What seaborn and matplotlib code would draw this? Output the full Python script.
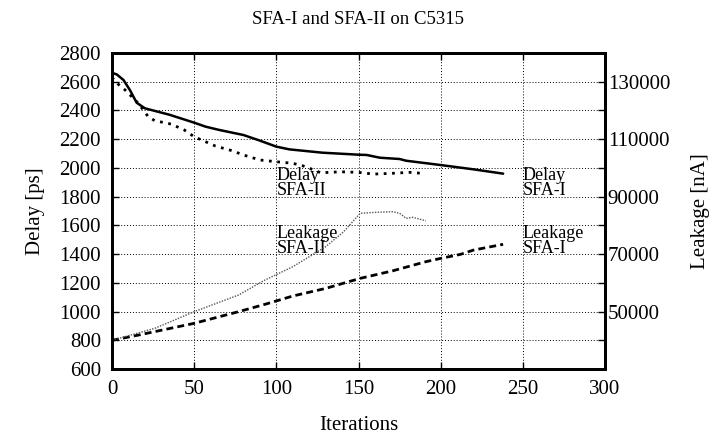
import numpy as np
import pandas as pd
import matplotlib
matplotlib.use("Agg")
import matplotlib.pyplot as plt
import seaborn as sns

# Datos
delay1_it = [0, 3, 7, 11, 15, 20, 28, 35, 50, 57, 65, 80, 90, 100, 108, 128,
             150, 155, 163, 175, 179, 200, 220, 238]
delay1_ps = [2663, 2650, 2612, 2540, 2454, 2415, 2391, 2370, 2315, 2287, 2265,
             2229, 2190, 2148, 2129, 2106, 2092, 2090, 2071, 2062, 2050, 2020,
             1990, 1960]

delay2_it = [0, 3, 8, 16, 22, 26, 36, 44, 50, 63, 73, 80, 90, 100, 110, 116,
             123, 127, 139, 150, 159, 170, 181, 189]
delay2_ps = [2630, 2590, 2542, 2450, 2357, 2329, 2305, 2264, 2217, 2152, 2120,
             2090, 2055, 2043, 2032, 2015, 1985, 1966, 1973, 1969, 1957, 1962,
             1969, 1962]

leak1_it = [0, 16, 50, 77, 93, 110, 130, 151, 171, 191, 200, 212, 220, 238]
leak1_na = [40000, 41800, 45900, 49950, 52500, 55400, 58050, 61550, 64200,
            67350, 68500, 69900, 71400, 73400]

leak2_it = [0, 26, 50, 77, 93, 110, 130, 141, 151, 161, 171, 175, 179, 183, 191]
leak2_na = [40000, 44150, 49950, 55750, 60950, 65600, 72550, 77800, 84200,
            84550, 84750, 84200, 82450, 82800, 81600]

sns.set_style("ticks")
plt.rcParams["font.family"] = ["Liberation Serif", "DejaVu Serif"]
plt.rcParams["font.size"] = 15
for k in ["text.color", "axes.labelcolor", "xtick.color", "ytick.color", "axes.edgecolor"]:
    plt.rcParams[k] = "black"

fig = plt.figure(figsize=(7.14, 4.38), dpi=100)
ax = fig.add_axes([112 / 714, 1 - 369 / 438, (605 - 112) / 714, (369 - 53) / 438])
ax2 = ax.twinx()

sns.lineplot(x=delay1_it, y=delay1_ps, ax=ax, color="black", lw=1.8,
             linestyle="-", estimator=None, sort=False)
sns.lineplot(x=delay2_it, y=delay2_ps, ax=ax, color="black", lw=2.0,
             linestyle=(0, (1, 2.0)), estimator=None, sort=False)
sns.lineplot(x=leak1_it, y=leak1_na, ax=ax2, color="black", lw=2.0,
             linestyle=(0, (2.5, 1.5)), estimator=None, sort=False)
sns.lineplot(x=leak2_it, y=leak2_na, ax=ax2, color="#555555", lw=1.0,
             linestyle=(0, (1, 1)), estimator=None, sort=False)

ax.set_xlim(0, 300)
ax.set_ylim(600, 2800)
ax.set_xticks(np.arange(0, 301, 50))
ax.set_yticks(np.arange(600, 2801, 200))
ax2.set_ylim(30000, 140000)
ax2.set_yticks(np.arange(50000, 130001, 20000))
ax2.set_yticks(np.arange(40000, 140001, 20000), minor=True)

ax.grid(True, color="black", linestyle=(0, (1, 2)), linewidth=0.7)
ax.tick_params(direction="in", top=True, right=False, length=5, width=1, pad=8)
ax2.tick_params(direction="in", length=5, width=1, pad=2)
ax2.tick_params(which="minor", direction="in", length=5, width=1)
for a in (ax, ax2):
    for s in a.spines.values():
        s.set_linewidth(2)
        s.set_color("black")

ax.set_title("SFA-I and SFA-II on C5315", fontsize=13.5, pad=21)
ax.set_xlabel("Iterations", labelpad=12)
ax.set_ylabel("Delay [ps]", labelpad=10)
ax2.set_ylabel("Leakage [nA]", labelpad=15)

lbl = dict(fontsize=13, ha="left", va="center", linespacing=0.8)
ax.text(100, 1895, "Delay\nSFA-II", **lbl)
ax.text(250, 1895, "Delay\nSFA-I", **lbl)
ax.text(100, 1490, "Leakage\nSFA-II", **lbl)
ax.text(250, 1490, "Leakage\nSFA-I", **lbl)

fig.savefig("out.png", dpi=100)
